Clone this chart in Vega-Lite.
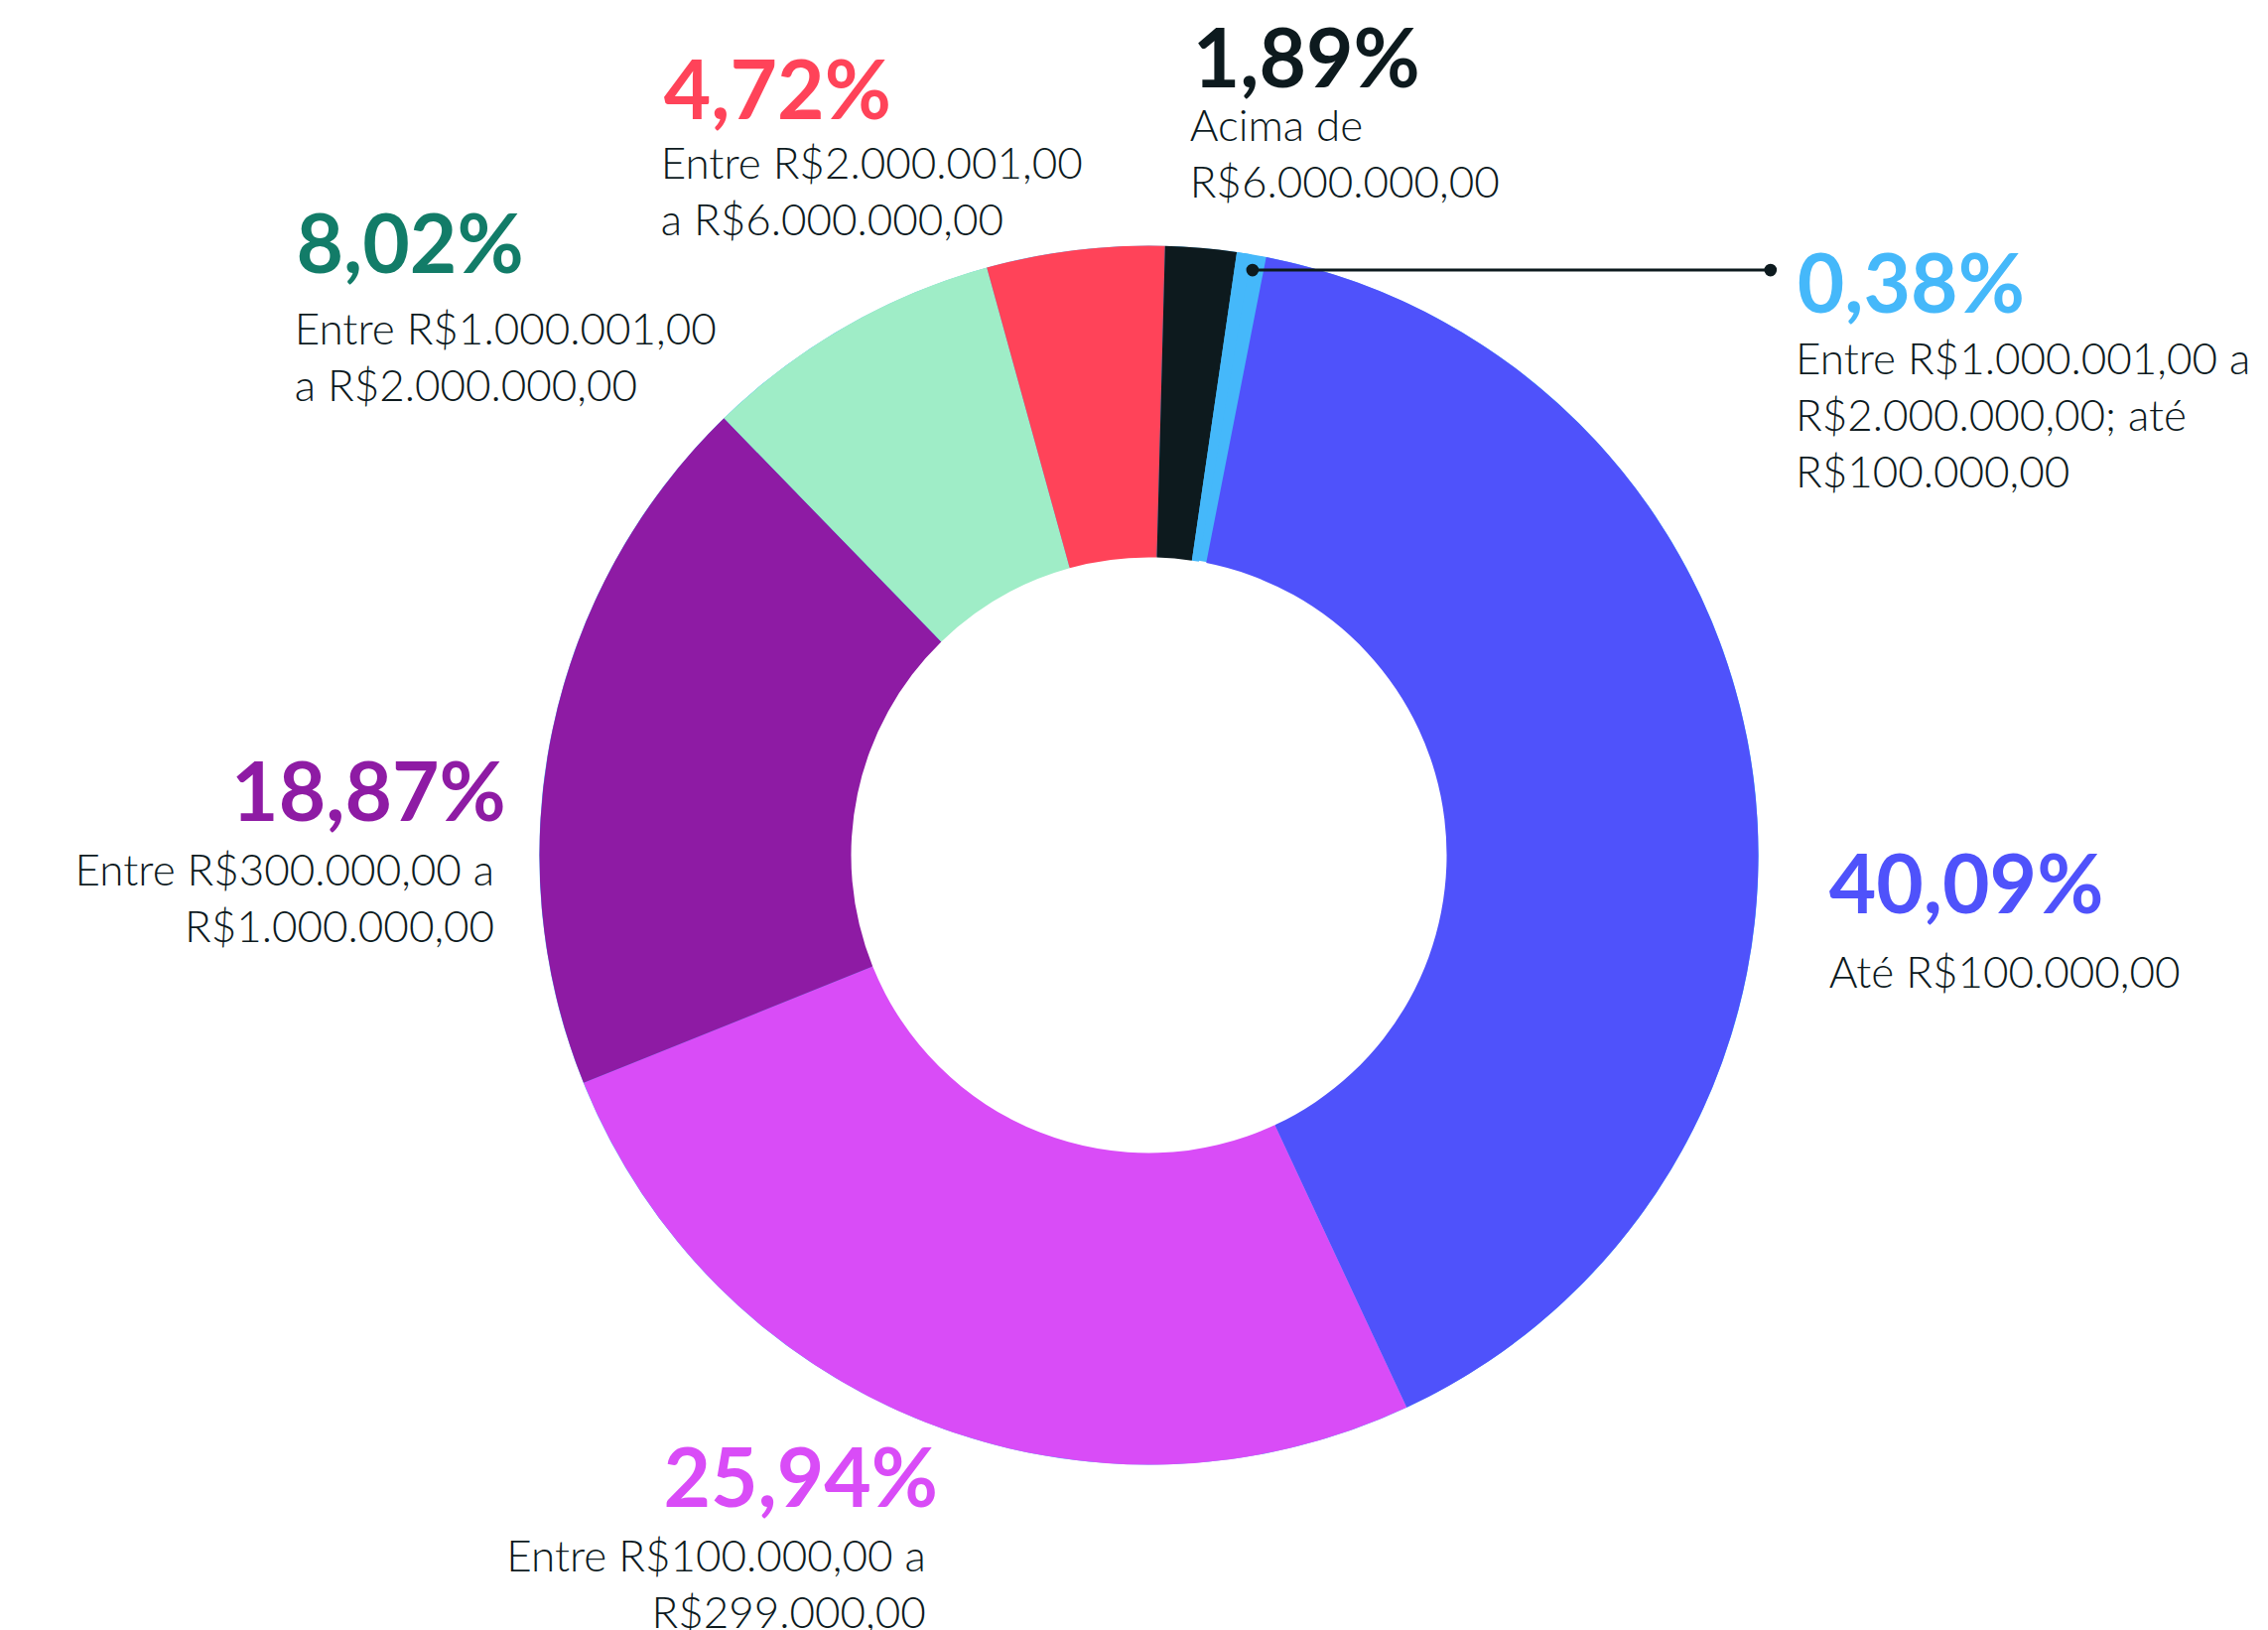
{
  "$schema": "https://vega.github.io/schema/vega-lite/v6.json",
  "width": 2285,
  "height": 1642,
  "padding": 0,
  "autosize": {"type": "none"},
  "background": "#ffffff",
  "config": {"view": {"stroke": null}, "font": "Lato"},
  "datasets": {
    "center": [{"u": 0, "v": 0}],
    "slices": [
      {"cat": "Até R$100.000,00", "value": 40.09, "ord": 1},
      {"cat": "Entre R$100.000,00 a R$299.000,00", "value": 25.94, "ord": 2},
      {"cat": "Entre R$300.000,00 a R$1.000.000,00", "value": 18.87, "ord": 3},
      {"cat": "Entre R$1.000.001,00 a R$2.000.000,00", "value": 8.02, "ord": 4},
      {"cat": "Entre R$2.000.001,00 a R$6.000.000,00", "value": 4.72, "ord": 5},
      {"cat": "Acima de R$6.000.000,00", "value": 1.89, "ord": 6},
      {"cat": "Entre R$1.000.001,00 a R$2.000.000,00; até R$100.000,00", "value": 0.38, "ord": 7}
    ],
    "labels": [
      {"cat": "Até R$100.000,00", "pct": "40,09%", "desc": ["Até R$100.000,00"], "side": "left", "pu": 111.6, "pv": -9.5, "du": 111.6, "dv": -21.7},
      {"cat": "Entre R$100.000,00 a R$299.000,00", "pct": "25,94%", "desc": ["Entre R$100.000,00 a", "R$299.000,00"], "side": "right", "pu": -34.6, "pv": -106.9, "du": -36.6, "dv": -117.5},
      {"cat": "Entre R$300.000,00 a R$1.000.000,00", "pct": "18,87%", "desc": ["Entre R$300.000,00 a", "R$1.000.000,00"], "side": "right", "pu": -105.5, "pv": 5.6, "du": -107.4, "dv": -5.0},
      {"cat": "Entre R$1.000.001,00 a R$2.000.000,00", "pct": "8,02%", "desc": ["Entre R$1.000.001,00", "a R$2.000.000,00"], "side": "left", "pu": -139.9, "pv": 95.5, "du": -140.2, "dv": 83.8},
      {"cat": "Entre R$2.000.001,00 a R$6.000.000,00", "pct": "4,72%", "desc": ["Entre R$2.000.001,00", "a R$6.000.000,00"], "side": "left", "pu": -79.6, "pv": 120.8, "du": -80.1, "dv": 111.0},
      {"cat": "Acima de R$6.000.000,00", "pct": "1,89%", "desc": ["Acima de", "R$6.000.000,00"], "side": "left", "pu": 7.2, "pv": 126.0, "du": 6.7, "dv": 117.2},
      {"cat": "Entre R$1.000.001,00 a R$2.000.000,00; até R$100.000,00", "pct": "0,38%", "desc": ["Entre R$1.000.001,00 a", "R$2.000.000,00; até", "R$100.000,00"], "side": "left", "pu": 106.4, "pv": 89.0, "du": 106.1, "dv": 78.9}
    ],
    "leader": [{"u": 17.0, "u2": 102.0, "v": 96.0}],
    "dots": [{"u": 17.0, "v": 96.0}, {"u": 102.0, "v": 96.0}]
  },
  "resolve": {"scale": {"color": "independent"}},
  "layer": [
    {
      "data": {"name": "center"},
      "mark": {"type": "arc", "theta": 0, "theta2": 6.2832, "outerRadius": 614, "innerRadius": 301, "color": "#45B8FA"},
      "encoding": {
        "x": {"field": "u", "type": "quantitative", "scale": {"domain": [-188.52, 183.63], "nice": false, "zero": false}, "axis": null},
        "y": {"field": "v", "type": "quantitative", "scale": {"domain": [-127.12, 140.31], "nice": false, "zero": false}, "axis": null}
      }
    },
    {
      "data": {"name": "slices"},
      "transform": [{"calculate": "0", "as": "u"}, {"calculate": "0", "as": "v"}],
      "mark": {"type": "arc", "outerRadius": 614, "innerRadius": 300},
      "encoding": {
        "x": {"field": "u", "type": "quantitative", "scale": {"domain": [-188.52, 183.63], "nice": false, "zero": false}, "axis": null},
        "y": {"field": "v", "type": "quantitative", "scale": {"domain": [-127.12, 140.31], "nice": false, "zero": false}, "axis": null},
        "theta": {"field": "value", "type": "quantitative", "stack": true, "scale": {"domain": [0, 100.31], "range": [0.1937, 6.4769]}},
        "order": {"field": "ord", "type": "quantitative"},
        "color": {
          "field": "cat", "type": "nominal", "legend": null,
          "scale": {
            "domain": ["Até R$100.000,00", "Entre R$100.000,00 a R$299.000,00", "Entre R$300.000,00 a R$1.000.000,00", "Entre R$1.000.001,00 a R$2.000.000,00", "Entre R$2.000.001,00 a R$6.000.000,00", "Acima de R$6.000.000,00", "Entre R$1.000.001,00 a R$2.000.000,00; até R$100.000,00"],
            "range": ["#4F52FB", "#D94CF7", "#8E1BA4", "#9FEDC7", "#FF4359", "#0D1A1E", "#45B8FA"]
          }
        }
      }
    },
    {
      "data": {"name": "leader"},
      "mark": {"type": "rule", "color": "#0D1A1E", "strokeWidth": 3},
      "encoding": {
        "x": {"field": "u", "type": "quantitative", "scale": {"domain": [-188.52, 183.63], "nice": false, "zero": false}, "axis": null},
        "x2": {"field": "u2"},
        "y": {"field": "v", "type": "quantitative", "scale": {"domain": [-127.12, 140.31], "nice": false, "zero": false}, "axis": null}
      }
    },
    {
      "data": {"name": "dots"},
      "mark": {"type": "point", "filled": true, "shape": "circle", "size": 160, "color": "#0D1A1E", "opacity": 1},
      "encoding": {
        "x": {"field": "u", "type": "quantitative", "scale": {"domain": [-188.52, 183.63], "nice": false, "zero": false}, "axis": null},
        "y": {"field": "v", "type": "quantitative", "scale": {"domain": [-127.12, 140.31], "nice": false, "zero": false}, "axis": null}
      }
    },
    {
      "data": {"name": "labels"},
      "layer": [
        {
          "transform": [{"filter": "datum.side === 'left'"}],
          "mark": {"type": "text", "align": "left", "baseline": "alphabetic", "font": "Lato", "fontWeight": "bold", "fontSize": 82},
          "encoding": {
            "x": {"field": "pu", "type": "quantitative", "scale": {"domain": [-188.52, 183.63], "nice": false, "zero": false}, "axis": null},
            "y": {"field": "pv", "type": "quantitative", "scale": {"domain": [-127.12, 140.31], "nice": false, "zero": false}, "axis": null},
            "text": {"field": "pct", "type": "nominal"},
            "color": {"field": "cat", "type": "nominal", "legend": null,
              "scale": {
                "domain": ["Até R$100.000,00", "Entre R$100.000,00 a R$299.000,00", "Entre R$300.000,00 a R$1.000.000,00", "Entre R$1.000.001,00 a R$2.000.000,00", "Entre R$2.000.001,00 a R$6.000.000,00", "Acima de R$6.000.000,00", "Entre R$1.000.001,00 a R$2.000.000,00; até R$100.000,00"],
                "range": ["#4F52FB", "#D94CF7", "#8E1BA4", "#127C68", "#FF4359", "#0D1A1E", "#45B8FA"]
              }}
          }
        },
        {
          "transform": [{"filter": "datum.side === 'right'"}],
          "mark": {"type": "text", "align": "right", "baseline": "alphabetic", "font": "Lato", "fontWeight": "bold", "fontSize": 82},
          "encoding": {
            "x": {"field": "pu", "type": "quantitative", "scale": {"domain": [-188.52, 183.63], "nice": false, "zero": false}, "axis": null},
            "y": {"field": "pv", "type": "quantitative", "scale": {"domain": [-127.12, 140.31], "nice": false, "zero": false}, "axis": null},
            "text": {"field": "pct", "type": "nominal"},
            "color": {"field": "cat", "type": "nominal", "legend": null,
              "scale": {
                "domain": ["Até R$100.000,00", "Entre R$100.000,00 a R$299.000,00", "Entre R$300.000,00 a R$1.000.000,00", "Entre R$1.000.001,00 a R$2.000.000,00", "Entre R$2.000.001,00 a R$6.000.000,00", "Acima de R$6.000.000,00", "Entre R$1.000.001,00 a R$2.000.000,00; até R$100.000,00"],
                "range": ["#4F52FB", "#D94CF7", "#8E1BA4", "#127C68", "#FF4359", "#0D1A1E", "#45B8FA"]
              }}
          }
        },
        {
          "transform": [{"filter": "datum.side === 'left'"}],
          "mark": {"type": "text", "align": "left", "baseline": "alphabetic", "font": "Lato", "fontWeight": 300, "fontSize": 44, "lineHeight": 57, "color": "#0D1A1E"},
          "encoding": {
            "x": {"field": "du", "type": "quantitative", "scale": {"domain": [-188.52, 183.63], "nice": false, "zero": false}, "axis": null},
            "y": {"field": "dv", "type": "quantitative", "scale": {"domain": [-127.12, 140.31], "nice": false, "zero": false}, "axis": null},
            "text": {"field": "desc", "type": "nominal"}
          }
        },
        {
          "transform": [{"filter": "datum.side === 'right'"}],
          "mark": {"type": "text", "align": "right", "baseline": "alphabetic", "font": "Lato", "fontWeight": 300, "fontSize": 44, "lineHeight": 57, "color": "#0D1A1E"},
          "encoding": {
            "x": {"field": "du", "type": "quantitative", "scale": {"domain": [-188.52, 183.63], "nice": false, "zero": false}, "axis": null},
            "y": {"field": "dv", "type": "quantitative", "scale": {"domain": [-127.12, 140.31], "nice": false, "zero": false}, "axis": null},
            "text": {"field": "desc", "type": "nominal"}
          }
        }
      ]
    }
  ]
}
